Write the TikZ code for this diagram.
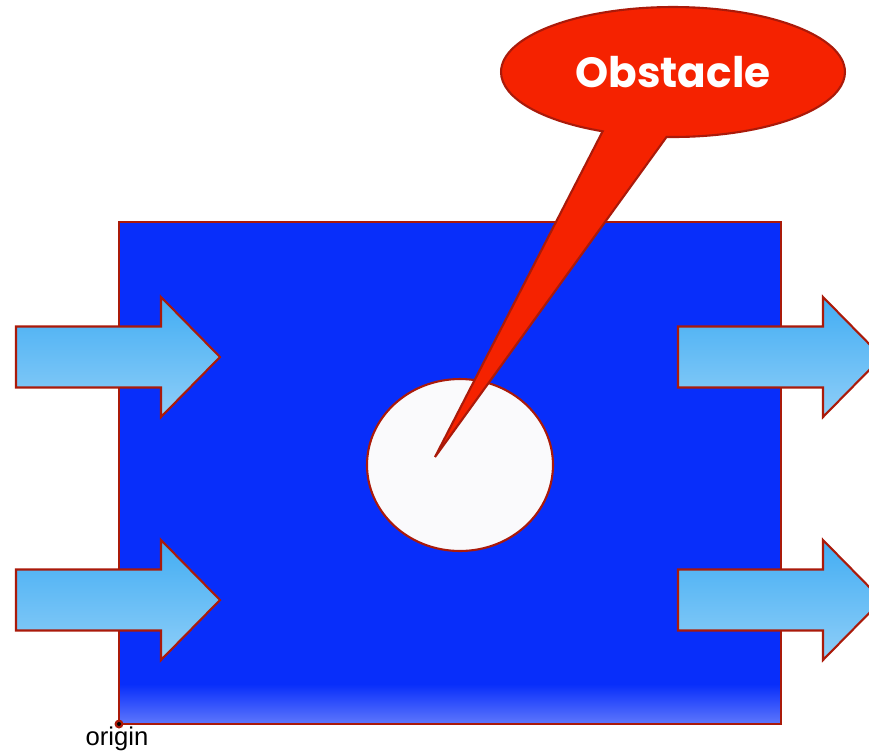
\documentclass[tikz,border=0pt]{standalone}
\usepackage{fontspec}
\setmainfont{Liberation Sans}
\newfontfamily\poppins{Poppins}
\usetikzlibrary{positioning,shapes.geometric,shapes.callouts}
\definecolor{boxblue}{RGB}{8,46,250}
\definecolor{edgered}{RGB}{170,26,10}
\definecolor{arrowblue}{RGB}{50,166,242}
\definecolor{calloutred}{RGB}{245,34,0}
\definecolor{holewhite}{RGB}{250,250,252}

\begin{document}
\begin{tikzpicture}[x=0.02cm, y=-0.02cm,
    flowarrow/.style={draw=edgered, line width=1.2pt, top color=arrowblue!92!white,
      middle color=arrowblue, bottom color=arrowblue!55!white}]
    % Canvas (pixel units, right arrows run off the edge)
    \clip (0,0) rectangle (869,752);

    % Flow domain
    \fill[boxblue] (119,222) rectangle (781,724);
    \shade[top color=boxblue, bottom color=boxblue!65!white] (119,684) rectangle (781,724);
    \draw[edgered, line width=1.2pt] (119,222) rectangle (781,724);

    % Inflow and outflow arrows
    \foreach \x/\y in {16/357, 16/600, 678/357, 678/600}
      \draw[flowarrow, shift={(\x,\y)}] (0,-30.5) -- (145,-30.5) -- (145,-60) -- (204,0)
        -- (145,60) -- (145,30.5) -- (0,30.5) -- cycle;

    % Obstacle
    \node[ellipse, draw=edgered, line width=1.2pt, fill=holewhite, inner sep=0pt,
      minimum width=3.72cm, minimum height=3.44cm] (hole) at (460,465) {};

    % Callout pointing into the obstacle
    \coordinate (tip) at (435,457);
    \node[ellipse callout, draw=edgered, line width=1.2pt, fill=calloutred, inner sep=0pt,
      minimum width=6.88cm, minimum height=2.6cm, callout absolute pointer={(tip)},
      callout pointer arc=22, text=white, text depth=-0.2cm,
      font=\poppins\bfseries\fontsize{24}{28}\selectfont]
      (callout) at (673,72) {Obstacle};

    % Origin marker
    \node[circle, fill=edgered, inner sep=0pt, minimum size=0.18cm] (orig) at (119,724) {};
    \fill[black] (orig.center) circle (2);
    \node[anchor=base, font=\fontsize{14.6}{17}\selectfont, inner sep=0pt] (origlabel) at (117,745) {origin};
\end{tikzpicture}
\end{document}
